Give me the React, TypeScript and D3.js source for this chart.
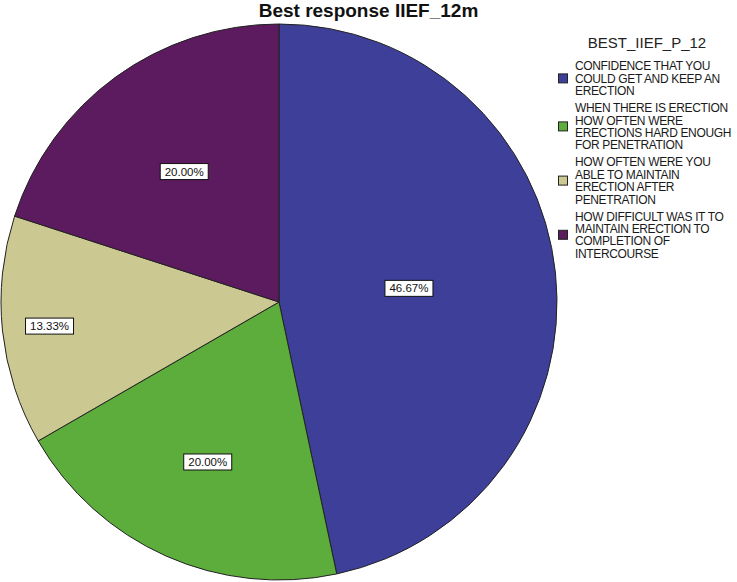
import * as React from 'react';
import * as d3 from 'd3';

const categories = [
  'CONFIDENCE THAT YOU COULD GET AND KEEP AN ERECTION',
  'WHEN THERE IS ERECTION HOW OFTEN WERE ERECTIONS HARD ENOUGH FOR PENETRATION',
  'HOW OFTEN WERE YOU ABLE TO MAINTAIN ERECTION AFTER PENETRATION',
  'HOW DIFFICULT WAS IT TO MAINTAIN ERECTION TO COMPLETION OF INTERCOURSE',
];
const legendLines = [
  ['CONFIDENCE THAT YOU', 'COULD GET AND KEEP AN', 'ERECTION'],
  ['WHEN THERE IS ERECTION', 'HOW OFTEN WERE', 'ERECTIONS HARD ENOUGH', 'FOR PENETRATION'],
  ['HOW OFTEN WERE YOU', 'ABLE TO MAINTAIN', 'ERECTION AFTER', 'PENETRATION'],
  ['HOW DIFFICULT WAS IT TO', 'MAINTAIN ERECTION TO', 'COMPLETION OF', 'INTERCOURSE'],
];
const percents = [46.67, 20.0, 13.33, 20.0];
const colors = ['#3d3f98', '#5cad3c', '#cbc891', '#5b1b5e'];
// SPSS places labels at varying distance from centre
const labelRadius = [0.47, 0.63, 0.83, 0.58];

export default function App() {
  const ref = React.useRef<SVGSVGElement | null>(null);

  React.useEffect(() => {
    if (!ref.current) return;
    const svg = d3.select(ref.current);
    svg.selectAll('*').remove();

    const cx = 279;
    const cy = 302;
    const r = 278;
    const font = 'Arial, "Liberation Sans", sans-serif';

    svg.append('text')
      .attr('x', 368.5).attr('y', 17)
      .attr('text-anchor', 'middle')
      .attr('font-family', font)
      .attr('font-weight', 'bold')
      .attr('font-size', 19)
      .attr('fill', '#111')
      .text('Best response IIEF_12m');

    const pie = d3.pie<number>().sort(null).value(d => d);
    const arcs = pie(percents);
    const arc = d3.arc<d3.PieArcDatum<number>>().innerRadius(0).outerRadius(r);

    const g = svg.append('g').attr('transform', `translate(${cx},${cy})`);
    g.selectAll('path.slice')
      .data(arcs)
      .join('path')
      .attr('class', 'slice')
      .attr('d', arc)
      .attr('fill', (_, i) => colors[i])
      .attr('stroke', '#222')
      .attr('stroke-width', 1);

    arcs.forEach((a, i) => {
      const mid = (a.startAngle + a.endAngle) / 2;
      const lr = r * labelRadius[i];
      const x = Math.sin(mid) * lr;
      const y = -Math.cos(mid) * lr;
      const label = percents[i].toFixed(2) + '%';
      const lg = g.append('g').attr('transform', `translate(${x},${y})`);
      lg.append('rect')
        .attr('x', -24).attr('y', -8)
        .attr('width', 48).attr('height', 16)
        .attr('fill', '#fff')
        .attr('stroke', '#111')
        .attr('stroke-width', 1);
      lg.append('text')
        .attr('text-anchor', 'middle')
        .attr('y', 4)
        .attr('font-family', font)
        .attr('font-size', 11.5)
        .attr('fill', '#111')
        .text(label);
    });

    // legend
    const lgX = 575;
    svg.append('text')
      .attr('x', 647).attr('y', 48)
      .attr('text-anchor', 'middle')
      .attr('font-family', font)
      .attr('font-size', 15)
      .attr('fill', '#222')
      .text('BEST_IIEF_P_12');

    const lineH = 12.4;
    let yTop = 66;
    legendLines.forEach((lines, i) => {
      const block = svg.append('g').attr('aria-label', categories[i]);
      const t = block.append('text')
        .attr('font-family', font)
        .attr('font-size', 12)
        .attr('letter-spacing', -0.35)
        .attr('fill', '#1a1a1a');
      lines.forEach((ln, j) => {
        t.append('tspan')
          .attr('x', lgX)
          .attr('y', yTop + j * lineH + 4.3)
          .text(ln);
      });
      const midY = yTop + ((lines.length - 1) * lineH) / 2;
      block.append('rect')
        .attr('x', 558.5).attr('y', midY - 4.5)
        .attr('width', 9).attr('height', 9)
        .attr('fill', colors[i])
        .attr('stroke', '#222')
        .attr('stroke-width', 1);
      yTop += (lines.length - 1) * lineH + 17;
    });
  }, []);

  return (
    <svg ref={ref} width={737} height={582} style={{ display: 'block', position: 'absolute', left: 0, top: 0 }} />
  );
}
